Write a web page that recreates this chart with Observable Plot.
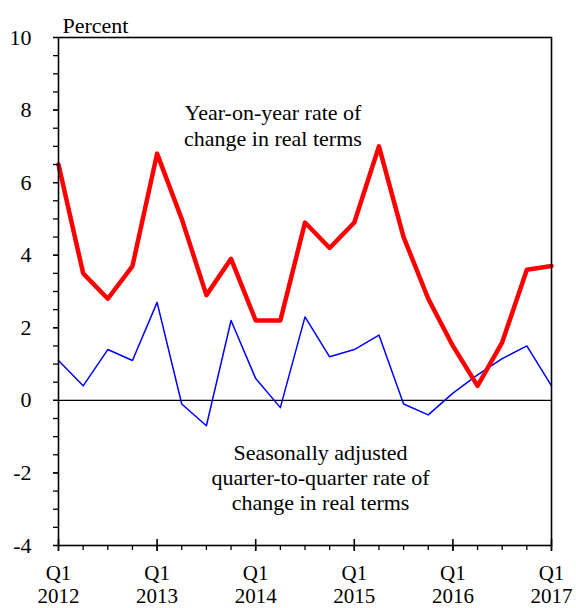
<!DOCTYPE html>
<html>
<head>
<meta charset="utf-8">
<script src="https://cdn.jsdelivr.net/npm/d3@7"></script>
<script src="https://cdn.jsdelivr.net/npm/@observablehq/plot@0.6"></script>
<style>
  html, body { margin: 0; padding: 0; background: white; }
  #chart svg text { font-family: "Liberation Serif", "Times New Roman", serif !important; font-size: 22px !important; fill: black; }
  #chart svg g[aria-label="x-axis tick label"] text { font-size: 21px !important; }
</style>
</head>
<body>
<div id="chart"></div>
<script>
// Quarters Q1 2012 .. Q1 2017 (index 0..20)
const years = [2012, 2013, 2014, 2015, 2016, 2017];
const quarterLabels = ["Q1", "Q2", "Q3", "Q4"];
const yoy = [6.5, 3.5, 2.8, 3.7, 6.8, 5.0, 2.9, 3.9, 2.2, 2.2, 4.9, 4.2, 4.9, 7.0, 4.5, 2.8, 1.5, 0.4, 1.6, 3.6, 3.7];
const qoq = [1.1, 0.4, 1.4, 1.1, 2.7, -0.1, -0.7, 2.2, 0.6, -0.2, 2.3, 1.2, 1.4, 1.8, -0.1, -0.4, 0.2, 0.7, 1.15, 1.5, 0.4];
const yTickLabels = [-4, -2, 0, 2, 4, 6, 8, 10];
const yMinorTicks = d3.range(-4, 10.001, 0.5);
const yoyLabel = "Year-on-year rate of\nchange in real terms";
const qoqLabel = "Seasonally adjusted\nquarter-to-quarter rate of\nchange in real terms";

const idx = d3.range(yoy.length);
const yoyData = idx.map(i => ({t: i, v: yoy[i]}));
const qoqData = idx.map(i => ({t: i, v: qoq[i]}));
const majorTicks = years.map((y, i) => i * 4);
const minorTicks = idx;

const chart = Plot.plot({
  width: 576,
  height: 608,
  marginLeft: 58,
  marginRight: 25,
  marginTop: 37,
  marginBottom: 63,
  style: {fontFamily: "Liberation Serif", fontSize: "22px", background: "white", color: "black"},
  x: {domain: [0, 20]},
  y: {domain: [-4, 10]},
  marks: [
    Plot.ruleY([0], {stroke: "black", strokeWidth: 1.2}),
    Plot.line(qoqData, {x: "t", y: "v", stroke: "#0000ff", strokeWidth: 1.5}),
    Plot.line(yoyData, {x: "t", y: "v", stroke: "#ff0000", strokeWidth: 4.5}),
    Plot.frame({stroke: "black", strokeWidth: 1.6}),
    Plot.axisY(yMinorTicks, {tickSize: 5, tickFormat: () => "", label: null, strokeWidth: 1.3}),
    Plot.axisY(yTickLabels, {tickSize: 5, tickPadding: 22, tickFormat: d => String(d), label: null, strokeWidth: 1.3}),
    Plot.axisX(minorTicks, {tickSize: 5, tickFormat: () => "", label: null, strokeWidth: 1.3}),
    Plot.axisX(majorTicks, {tickSize: 6, tickPadding: 12, lineHeight: 1.11, tickFormat: (d, i) => quarterLabels[0] + "\n" + years[i], label: null, strokeWidth: 1.6}),
    Plot.axisX(majorTicks, {tickSize: -6, tickFormat: () => "", label: null, strokeWidth: 1.6}),
    Plot.text(["Percent"], {frameAnchor: "top-left", textAnchor: "start", lineAnchor: "middle", dx: 4, dy: -12}),
    Plot.text([yoyLabel], {x: 8.7, y: 7.59, text: d => d, lineHeight: 1.14}),
    Plot.text([qoqLabel], {x: 10.63, y: -2.11, text: d => d, lineHeight: 1.14})
  ]
});
document.getElementById("chart").appendChild(chart);
</script>
</body>
</html>
